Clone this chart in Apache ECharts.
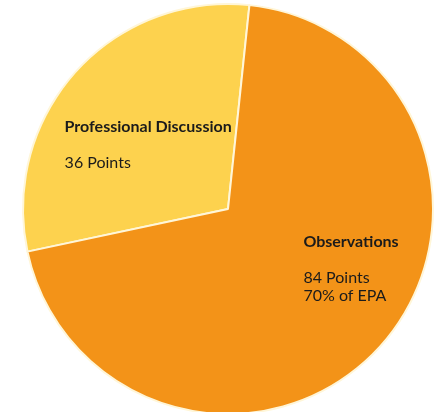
<!DOCTYPE html>
<html>
<head>
<meta charset="utf-8">
<script src="https://cdn.jsdelivr.net/npm/echarts@6/dist/echarts.min.js"></script>
<style>html,body{margin:0;padding:0;background:#fff}#c{width:438px;height:412px}</style>
</head>
<body>
<div id="c"></div>
<script>
const names = ['Professional Discussion', 'Observations'];
const points = [36, 84];
const extraLines = [[], ['70% of EPA']];
const colors = ['#FDD24E', '#F39318'];
const labelOffsets = [[5, 6], [87, -11]];

const data = names.map((n, i) => ({
  name: n,
  value: points[i],
  itemStyle: { color: colors[i] },
  label: { offset: labelOffsets[i] }
}));

const chart = echarts.init(document.getElementById('c'), null, { renderer: 'canvas' });
chart.setOption({
  animation: false,
  series: [{
    type: 'pie',
    center: [228, 209],
    radius: 205,
    startAngle: 192,
    clockwise: true,
    silent: true,
    itemStyle: { borderColor: '#FFF6D8', borderWidth: 2 },
    labelLine: { show: false },
    label: {
      show: true,
      position: 'inside',
      fontFamily: 'Lato',
      color: '#1b1b1b',
      formatter: function (p) {
        const i = p.dataIndex;
        let s = '{t|' + p.name + '}\n{g|}\n{v|' + points[i] + ' Points}';
        extraLines[i].forEach(l => { s += '\n{v|' + l + '}'; });
        return s;
      },
      rich: {
        t: { fontFamily: 'Lato', fontWeight: 'bold', fontSize: 16, color: '#1b1b1b', width: 180, align: 'left', lineHeight: 18 },
        g: { width: 180, lineHeight: 18, fontSize: 16 },
        v: { fontFamily: 'Lato', fontSize: 16, color: '#1b1b1b', width: 180, align: 'left', lineHeight: 18 }
      }
    },
    data: data
  }]
});
</script>
</body>
</html>
